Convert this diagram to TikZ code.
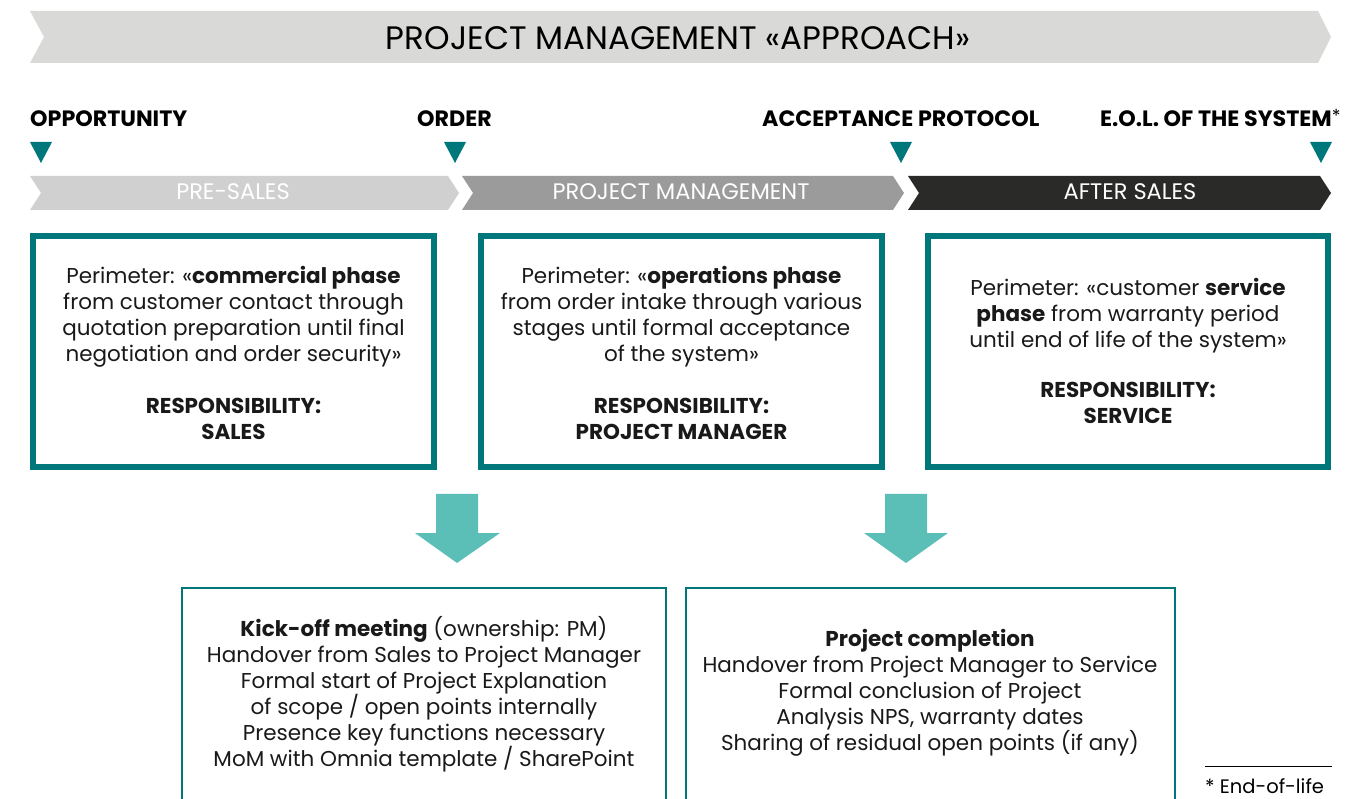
\documentclass[tikz,border=0pt]{standalone}
\usepackage{fontspec}
\setmainfont{Poppins}
\usetikzlibrary{calc}
\definecolor{petrol}{HTML}{00777A}
\definecolor{lightpetrol}{HTML}{5BBFB8}
\definecolor{bannergray}{HTML}{D9D9D8}
\definecolor{presalesgray}{HTML}{D0D0D0}
\definecolor{pmgray}{HTML}{9B9B9B}
\definecolor{afterblack}{HTML}{2A2A29}
\tikzset{
	txt/.style={font=\fontsize{21.5}{26}\selectfont, inner sep=0pt, align=center, text=black!90},
	milestone/.style={font=\fontsize{22.2}{22}\selectfont\bfseries, inner sep=0pt, anchor=base west},
	phase/.style={font=\fontsize{22.5}{24}\selectfont, inner sep=0pt, text=white},
	bigbox/.style={draw=petrol, line width=6pt},
	smallbox/.style={draw=petrol, line width=2.5pt},
}

\begin{document}
\begin{tikzpicture}[x=1pt, y=-1pt]
			\useasboundingbox (0,0) rectangle (1369,799);

			\fill[bannergray] (30,11) -- (1318,11) -- (1331,37) -- (1318,63) -- (30,63) -- (44,37) -- cycle;
			\node[inner sep=0pt, font=\fontsize{32.5}{34}\selectfont] (title) at (678,38) {PROJECT MANAGEMENT «APPROACH»};

			\node[milestone] (opp) at (30,127) {OPPORTUNITY};
			\node[milestone] (ord) at (417,127) {ORDER};
			\node[milestone] (acc) at (762,127) {ACCEPTANCE PROTOCOL};
			\node[milestone] (eol) at (1100,127) {E.O.L. OF THE SYSTEM\raisebox{4pt}{\mdseries\fontsize{18}{18}\selectfont*}};

			\foreach \x in {41,455,901,1321}
				\fill[petrol] (\x-11,142) -- (\x+11,142) -- (\x,163) -- cycle;

			\fill[presalesgray] (30,176) -- (448,176) -- (459,193) -- (448,210) -- (30,210) -- (41,193) -- cycle;
			\fill[pmgray] (462,176) -- (893,176) -- (904,193) -- (893,210) -- (462,210) -- (473,193) -- cycle;
			\fill[afterblack] (908,176) -- (1320,176) -- (1331,193) -- (1320,210) -- (908,210) -- (919,193) -- cycle;
			\node[phase] (presales) at (233,192) {PRE-SALES};
			\node[phase] (pm) at (681,192) {PROJECT MANAGEMENT};
			\node[phase] (after) at (1130,192) {AFTER SALES};

			\coordinate (A1) at (33,236);
			\coordinate (A2) at (434,467);
			\coordinate (B1) at (481,236);
			\coordinate (B2) at (882,467);
			\coordinate (C1) at (928,236);
			\coordinate (C2) at (1328,467);
			\draw[bigbox] (A1) rectangle (A2);
			\draw[bigbox] (B1) rectangle (B2);
			\draw[bigbox] (C1) rectangle (C2);

			\node[txt] (sales) at ($(A1)!0.5!(A2)+(0,1)$) {Perimeter: «\textbf{commercial phase}\\from customer contact through\\quotation preparation until final\\negotiation and order security»\\[26pt]\textbf{RESPONSIBILITY:}\\\textbf{SALES}};
			\node[txt] (ops) at ($(B1)!0.5!(B2)+(0,1)$) {Perimeter: «\textbf{operations phase}\\from order intake through various\\stages until formal acceptance\\of the system»\\[26pt]\textbf{RESPONSIBILITY:}\\\textbf{PROJECT MANAGER}};
			\node[txt] (service) at ($(C1)!0.5!(C2)+(0,-1)$) {Perimeter: «customer \textbf{service}\\\textbf{phase} from warranty period\\until end of life of the system»\\[24pt]\textbf{RESPONSIBILITY:}\\\textbf{SERVICE}};

			\fill[lightpetrol] (436,494) -- (478,494) -- (478,533) -- (500,533) -- (457,563) -- (415,533) -- (436,533) -- cycle;
			\fill[lightpetrol] (885,494) -- (927,494) -- (927,533) -- (948,533) -- (906,563) -- (864,533) -- (885,533) -- cycle;

			\draw[smallbox] (182,799) -- (182,588) -- (666,588) -- (666,799);
			\draw[smallbox] (686,799) -- (686,588) -- (1175,588) -- (1175,799);

			\node[txt] (kickoff) at (424,694) {\textbf{Kick-off meeting} (ownership: PM)\\Handover from Sales to Project Manager\\Formal start of Project Explanation\\of scope / open points internally\\Presence key functions necessary\\MoM with Omnia template / SharePoint};
			\node[txt] (completion) at (930,693) {\textbf{Project completion}\\Handover from Project Manager to Service\\Formal conclusion of Project\\Analysis NPS, warranty dates\\Sharing of residual open points (if any)};

			\coordinate (F1) at (1205,766);
			\coordinate (F2) at (1332,766);
			\draw[line width=1pt] (F1) -- (F2);
			\node[font=\fontsize{19.5}{20}\selectfont, inner sep=0pt, anchor=base west] (eolnote) at (1205,793) {* End-of-life};
		\end{tikzpicture}
\end{document}
